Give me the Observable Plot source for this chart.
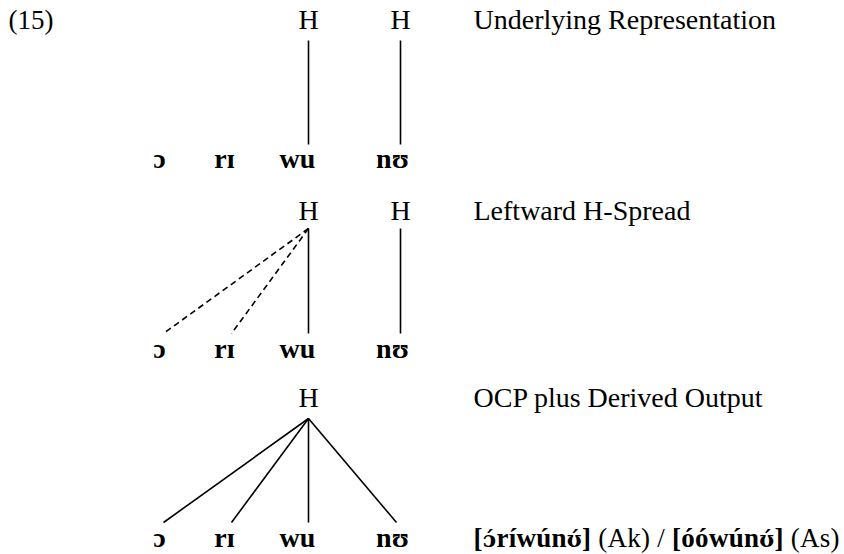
<!DOCTYPE html>
<html><head><meta charset="utf-8">
<script src="https://cdn.jsdelivr.net/npm/d3@7"></script>
<script src="https://cdn.jsdelivr.net/npm/@observablehq/plot@0.6"></script>
<style>html,body{margin:0;padding:0;background:#fff}</style>
</head><body><div id="chart"></div>
<script>
// ---- data ----
const exampleNumber = "(15)";
const segments = ["ɔ", "rɪ", "wu", "nʊ"];
const tiers = ["Underlying Representation", "Leftward H-Spread", "OCP plus Derived Output"];
const tonesPerTier = [["H1", "H2"], ["H1", "H2"], ["H1"]];
// associations: [tier index, tone, segment, line type]
const associations = [
  [0, "H1", "wu", "solid"], [0, "H2", "nʊ", "solid"],
  [1, "H1", "ɔ", "dashed"], [1, "H1", "rɪ", "dashed"], [1, "H1", "wu", "solid"], [1, "H2", "nʊ", "solid"],
  [2, "H1", "ɔ", "solid"], [2, "H1", "rɪ", "solid"], [2, "H1", "wu", "solid"], [2, "H1", "nʊ", "solid"]
];
const outputAk = "[ɔ́ríwúnʊ́]";
const outputAs = "[óówúnʊ́]";

// ---- layout ----
const W = 844, H = 554;
const FS = 28;
const toneX = {H1: 308, H2: 400};
const segTextX = {"ɔ": 159, "rɪ": 224, "wu": 297, "nʊ": 392};
const segAttachX = {"ɔ": 163, "rɪ": 231, "wu": 308, "nʊ": 396};
const rows = [
  {toneY: 20, top: 40, bottom: 144, segY: 159},
  {toneY: 211, top: 228, bottom: 333, segY: 349},
  {toneY: 398, top: 418, bottom: 522, segY: 538}
];
const labelX = 473;

const toneData = tonesPerTier.flatMap((ts, i) => ts.map(t => ({x: toneX[t], y: rows[i].toneY})));
const segData = rows.flatMap(r => segments.map(s => ({s, x: segTextX[s], y: r.segY})));
// a tone directly above its own segment keeps a vertical line
const linkData = associations.map(([i, t, s, type]) => ({
  x1: toneX[t], y1: rows[i].top,
  x2: Math.abs(toneX[t] - segAttachX[s]) < 6 ? toneX[t] : segAttachX[s], y2: rows[i].bottom, type
}));
const labelData = tiers.map((t, i) => ({t, x: labelX, y: rows[i].toneY}));

const font = "'Liberation Serif', 'Times New Roman', serif";
const plot = Plot.plot({
  width: W, height: H, margin: 0,
  x: {domain: [0, W], range: [0, W], axis: null},
  y: {domain: [0, H], range: [0, H], axis: null},
  style: {fontFamily: font, background: "#fff", color: "#000"},
  marks: [
    Plot.text([exampleNumber], {x: () => 8, y: () => 20, text: d => d, textAnchor: "start", fontSize: 27, fill: "#000"}),
    Plot.text(toneData, {x: "x", y: "y", text: () => "H", fontSize: FS, fill: "#000"}),
    Plot.link(linkData.filter(d => d.type === "solid"), {x1: "x1", y1: "y1", x2: "x2", y2: "y2", stroke: "#000", strokeWidth: 1.6}),
    Plot.link(linkData.filter(d => d.type === "dashed"), {x1: "x1", y1: "y1", x2: "x2", y2: "y2", stroke: "#000", strokeWidth: 1.6, strokeDasharray: "6,4"}),
    Plot.text(segData, {x: "x", y: "y", text: "s", fontSize: FS, fontWeight: "bold", fill: "#000"}),
    Plot.text(labelData, {x: "x", y: "y", text: "t", textAnchor: "start", fontSize: FS, fill: "#000"}),
    Plot.text([outputAk + " (Ak) / " + outputAs + " (As)"], {x: () => labelX, y: () => rows[2].segY, text: d => d, textAnchor: "start", fontSize: 27, fill: "#000", className: "outputline"})
  ]
});
// mixed weights in the output line; IPA letters with accents drawn from one font so the accent sits on them
const t = plot.querySelector(".outputline text");
if (t) {
  t.textContent = "";
  const parts = [[outputAk, "bold"], [" (Ak) / ", "normal"], [outputAs, "bold"], [" (As)", "normal"]];
  const NS = "http://www.w3.org/2000/svg";
  for (const [s, w] of parts) {
    const graphemes = s.match(/.[\u0300-\u036f]*/gu);
    let buf = "";
    const flush = () => {
      if (!buf) return;
      const ts = document.createElementNS(NS, "tspan");
      ts.setAttribute("font-weight", w);
      ts.textContent = buf;
      t.appendChild(ts);
      buf = "";
    };
    for (const g of graphemes) {
      if (/[ɔʊ]/.test(g)) {
        flush();
        const ts = document.createElementNS(NS, "tspan");
        ts.setAttribute("font-weight", w);
        ts.setAttribute("font-family", "'DejaVu Serif', serif");
        ts.setAttribute("font-size", 22);
        ts.textContent = g;
        t.appendChild(ts);
      } else buf += g;
    }
    flush();
  }
  t.setAttribute("textLength", 366);
  t.setAttribute("lengthAdjust", "spacing");
}
document.getElementById("chart").appendChild(plot);
</script></body></html>
